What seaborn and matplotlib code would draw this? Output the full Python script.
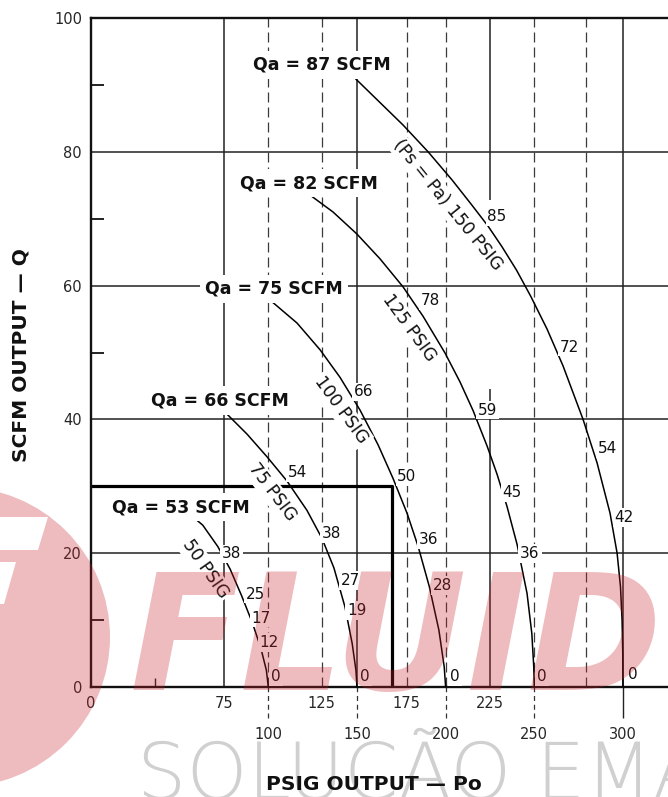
import matplotlib
matplotlib.use("Agg")
import matplotlib.pyplot as plt
import numpy as np
import pandas as pd
import seaborn as sns
from matplotlib.patches import Ellipse, Polygon

# ---- curve data (Po in psig, Q in scfm) ----
curve_names = ["50 PSIG", "75 PSIG", "100 PSIG", "125 PSIG", "150 PSIG"]

po_50 = [51.3, 63.0, 71.5, 78.5, 85.0, 91.0, 95.8, 98.9, 100.0]
q_50 = [26.8, 24.2, 21.0, 17.6, 13.6, 9.6, 5.8, 2.5, 0.0]

po_75 = [74.4, 88.0, 99.3, 110.5, 121.8, 130.3, 137.0, 143.2, 147.3, 149.4, 150.0]
q_75 = [41.4, 37.8, 34.4, 30.8, 26.4, 22.2, 17.8, 12.0, 6.5, 2.5, 0.0]

po_100 = [99.8, 116.2, 129.2, 140.4, 151.7, 161.9, 170.3, 178.2, 184.5, 190.8, 196.2, 199.2, 200.0]
q_100 = [58.1, 54.4, 50.4, 46.3, 41.4, 36.2, 31.2, 26.0, 21.0, 15.0, 8.5, 3.0, 0.0]

po_125 = [119.6, 136.5, 150.0, 163.0, 176.0, 187.3, 199.7, 208.1, 215.5, 223.4, 229.0,
          234.6, 240.3, 245.9, 248.6, 249.7, 250.0]
q_125 = [74.3, 71.0, 67.7, 64.0, 59.8, 55.4, 49.9, 45.6, 41.3, 36.0, 31.8,
         27.0, 21.3, 14.0, 8.0, 3.0, 0.0]

po_150 = [148.9, 176.0, 190.1, 203.6, 214.9, 223.9, 231.8, 240.0, 248.0, 257.2, 266.2,
          277.5, 285.4, 292.7, 296.7, 298.6, 299.5, 299.9, 300.0]
q_150 = [91.0, 84.0, 80.0, 75.8, 72.0, 68.9, 65.8, 62.3, 58.4, 53.5, 48.0,
         40.0, 33.5, 26.0, 20.0, 15.0, 10.0, 5.0, 0.0]

# numbers written along each curve
marks_50 = ["38", "25", "17", "12", "0"]
marks_po_50 = [79.5, 92.5, 95.9, 100.4, 104.3]
marks_q_50 = [19.9, 13.9, 10.3, 6.7, 1.6]

marks_75 = ["54", "38", "27", "19", "0"]
marks_po_75 = [116.2, 135.4, 146.6, 150.0, 154.5]
marks_q_75 = [32.0, 22.9, 15.9, 11.4, 1.6]

marks_100 = ["66", "50", "36", "28", "0"]
marks_po_100 = [154.0, 178.2, 190.6, 198.0, 205.3]
marks_q_100 = [44.1, 31.5, 22.0, 15.2, 1.6]

marks_125 = ["78", "59", "45", "36", "0"]
marks_po_125 = [191.2, 223.4, 237.5, 247.6, 254.4]
marks_q_125 = [57.8, 41.4, 29.0, 20.0, 1.6]

marks_150 = ["85", "72", "54", "42", "0"]
marks_po_150 = [229.0, 269.6, 291.0, 300.6, 305.7]
marks_q_150 = [70.3, 50.8, 35.7, 25.3, 1.8]

# Qa labels at the start of each curve
qa_values = [53, 66, 75, 82, 87]
qa_po = [50.8, 72.8, 103.2, 123.0, 130.3]
qa_q = [26.9, 42.8, 59.5, 75.3, 93.0]

# pressure labels written along the curves
psig_text = ["50 PSIG", "75 PSIG", "100 PSIG", "125 PSIG", "(Ps = Pa) 150 PSIG"]
psig_po = [64.3, 102.1, 141.0, 179.4, 201.4]
psig_q = [17.6, 29.1, 41.4, 53.7, 72.0]
psig_rot = [-55, -53, -54, -54, -51]

# axis ticks (two rows of labels under the x axis)
x_upper_pos = [0, 75, 130, 178, 225]
x_upper_lab = ["0", "75", "125", "175", "225"]
x_lower_pos = [100, 150, 200, 250, 300]
x_lower_lab = ["100", "150", "200", "250", "300"]
y_major = [0, 20, 40, 60, 80, 100]
y_minor = [10, 30, 50, 70, 90]

grid_solid_x = [75, 150, 300]
grid_dashed_x = [100, 130, 178, 200, 250, 279]
grid_y = [20, 40, 60, 80]
box_po, box_q = 170, 30

# ---- build long table for seaborn ----
all_po = [po_50, po_75, po_100, po_125, po_150]
all_q = [q_50, q_75, q_100, q_125, q_150]
rows = []
for name, pos, qs in zip(curve_names, all_po, all_q):
    for p, q in zip(pos, qs):
        rows.append({"curve": name, "po": p, "q": q})
df = pd.DataFrame(rows)

sns.set_style("white")
plt.rcParams["font.family"] = ["DejaVu Sans"]

fig = plt.figure(figsize=(6.68, 7.97), dpi=100)
ax = fig.add_axes([91 / 668, 1 - 687 / 797, 577 / 668, 669 / 797])
xmax = 325.4
ax.set_xlim(0, xmax)
ax.set_ylim(0, 100)

# grid
ax.hlines(grid_y, 0, xmax, colors="#222222", lw=1.1, zorder=1)
ax.vlines(grid_solid_x, 0, 100, colors="#222222", lw=1.1, zorder=1)
ax.vlines([225, 225], [0, 72.8], [44.5, 100], colors="#222222", lw=1.1, zorder=1)
ax.vlines(grid_dashed_x, 0, 100, colors="#3a3a3a", lw=0.9, linestyles=(0, (8, 4)), zorder=1)
# tick extensions down to the lower label row
ax.vlines(x_lower_pos[:-1], -4.6, 0, colors="#333333", lw=0.9, linestyles=(0, (4, 3)), clip_on=False)
ax.vlines(x_lower_pos[-1:], -4.6, 0, colors="#222222", lw=1.0, clip_on=False)
ax.vlines([36], 0, 1.3, colors="#222222", lw=1.0)

# thick operating box
ax.plot([0, box_po, box_po], [box_q, box_q, 0], color="black", lw=2.3,
        solid_capstyle="butt", zorder=2)

# curves
sns.lineplot(data=df, x="po", y="q", units="curve", estimator=None, sort=False,
             color="black", linewidth=1.1, ax=ax, legend=False, zorder=3)

box_kw = dict(boxstyle="square,pad=0.12", fc="white", ec="none")

all_marks = [marks_50, marks_75, marks_100, marks_125, marks_150]
all_mpo = [marks_po_50, marks_po_75, marks_po_100, marks_po_125, marks_po_150]
all_mq = [marks_q_50, marks_q_75, marks_q_100, marks_q_125, marks_q_150]
for labs, xs, ys in zip(all_marks, all_mpo, all_mq):
    for s, x, y in zip(labs, xs, ys):
        ax.text(x, y, s, ha="center", va="center", fontsize=11, color="#111111",
                bbox=box_kw, zorder=4)

for v, x, y in zip(qa_values, qa_po, qa_q):
    ax.text(x, y, f"Qa = {v} SCFM", ha="center", va="center", fontsize=12.5,
            fontweight="bold", color="#111111",
            bbox=dict(boxstyle="square,pad=0.3", fc="white", ec="none"), zorder=4)

for s, x, y, r in zip(psig_text, psig_po, psig_q, psig_rot):
    ax.text(x, y, s, ha="center", va="center", rotation=r, rotation_mode="anchor",
            fontsize=12.5, color="#111111", bbox=box_kw, zorder=4)

# spines and ticks
ax.spines["right"].set_visible(False)
for side in ["top", "left", "bottom"]:
    ax.spines[side].set_linewidth(1.7)
    ax.spines[side].set_color("#111111")

ax.set_xticks(x_upper_pos, x_upper_lab)
ax.set_xticks(x_lower_pos, x_lower_lab, minor=True)
ax.tick_params(axis="x", which="major", length=0, pad=6.5, labelsize=10.5)
ax.tick_params(axis="x", which="minor", length=0, pad=29, labelsize=10.5)
ax.set_yticks(y_major)
ax.set_yticks(y_minor, minor=True)
ax.tick_params(axis="y", which="major", length=0, pad=6.5, labelsize=10.5)
ax.tick_params(axis="y", which="minor", left=True, direction="in", length=9,
               width=1.3, color="#111111")
ax.set_xlabel("")
ax.set_ylabel("")

fig.text(374 / 668, 1 - 784 / 797, "PSIG OUTPUT — Po", ha="center", va="center",
         fontsize=14.5, fontweight="bold", color="#111111", zorder=6)
fig.text(21 / 668, 1 - 355 / 797, "SCFM OUTPUT — Q", ha="center", va="center",
         rotation=90, fontsize=14.5, fontweight="bold", color="#111111", zorder=6)

# watermark
fig.text(137 / 668, 1 - 799 / 797, "SOLUÇÃO EMA", ha="left", va="baseline",
         fontsize=56, fontweight="light", color="#d0d0d0", zorder=-1)
red = (0.78, 0.12, 0.16)
wm = Ellipse((-40 / 668, 1 - 637 / 797), 300 / 668, 300 / 797, transform=fig.transFigure,
             fc=red, ec="none", alpha=0.3, zorder=5)
fig.add_artist(wm)
# white cut-outs of the logo inside the disc
for pts in ([(0, 517), (48, 517), (38, 550), (0, 550)], [(0, 562), (16, 562), (4, 604), (0, 604)]):
    fig.add_artist(Polygon([(x / 668, 1 - y / 797) for x, y in pts], closed=True,
                           transform=fig.transFigure, fc="white", ec="none", zorder=5.5))
fig.text(130 / 668, 1 - 690 / 797, "FLUID", ha="left", va="baseline", fontsize=117,
         fontweight="bold", style="italic", color=red, alpha=0.3, zorder=5)

fig.savefig("out.png", dpi=100)
